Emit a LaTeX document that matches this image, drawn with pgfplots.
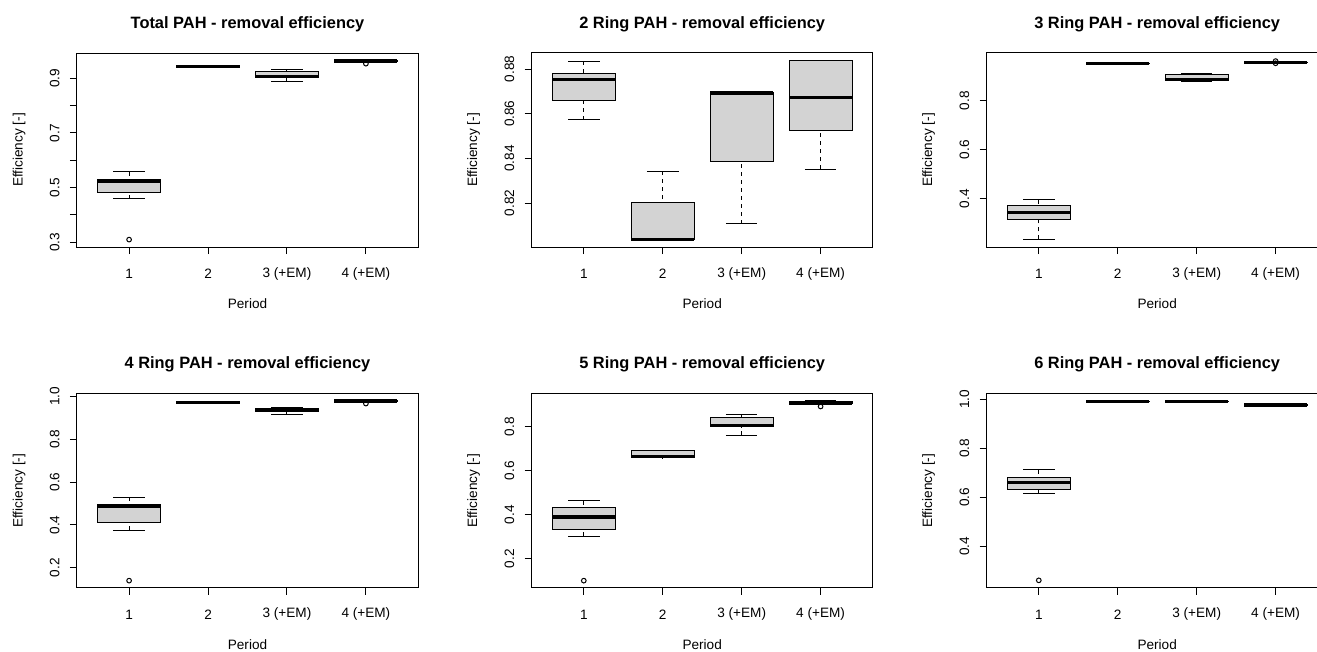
\documentclass[border=0pt]{standalone}
\usepackage{pgfplots}
\pgfplotsset{compat=1.18}
\usepgfplotslibrary{statistics}
\usepackage{fontspec}
\setmainfont{Liberation Sans}
\definecolor{boxgray}{HTML}{D3D3D3}

\newcommand{\lblfont}{\fontsize{10.2}{12}\selectfont}
\pgfplotsset{
  rpanel/.style={
    scale only axis, width=255.75pt, height=145.5pt,
    anchor=south west,
    xmin=0.34, xmax=4.66,
    xtick={1,2,3,4}, xticklabels={1,2,3 (+EM),4 (+EM)},
    tick pos=left, tick align=outside, major tick length=5.25pt,
    axis line style={line width=0.75pt, black},
    every tick/.style={black, line width=0.75pt},
    ticklabel style={font=\lblfont, black},
    xticklabel style={anchor=center},
    xticklabel shift=14.75pt,
    yticklabel style={rotate=90, anchor=center},
    yticklabel shift=11.5pt,
    title style={at={(axis description cs:0.5,1.108)}, anchor=center, font=\bfseries\fontsize{12.3}{14}\selectfont},
    xlabel={Period}, ylabel={Efficiency [-]},
    every axis x label/.style={at={(axis description cs:0.5,-0.2938)}, anchor=center, font=\lblfont},
    every axis y label/.style={at={(axis description cs:-0.1701,0.5)}, anchor=center, rotate=90, font=\lblfont},
  },
  rbox/.style={
    black,
    boxplot/draw direction=y,
    boxplot/box extend=0.8,
    boxplot/whisker extend=0.4,
    boxplot/every box/.style={draw=black, fill=boxgray, line width=0.8pt},
    boxplot/every median/.style={draw=black, line width=2.6pt},
    boxplot/draw/lower whisker/.code={%
      \draw[black, line width=0.75pt, dash pattern=on 3pt off 3pt]
        (boxplot box cs:\pgfplotsboxplotvalue{lower whisker},0.5) --
        (boxplot box cs:\pgfplotsboxplotvalue{lower quartile},0.5);
      \draw[black, line width=0.75pt]
        (boxplot whisker cs:\pgfplotsboxplotvalue{lower whisker},0) --
        (boxplot whisker cs:\pgfplotsboxplotvalue{lower whisker},1);
    },
    boxplot/draw/upper whisker/.code={%
      \draw[black, line width=0.75pt, dash pattern=on 3pt off 3pt]
        (boxplot box cs:\pgfplotsboxplotvalue{upper whisker},0.5) --
        (boxplot box cs:\pgfplotsboxplotvalue{upper quartile},0.5);
      \draw[black, line width=0.75pt]
        (boxplot whisker cs:\pgfplotsboxplotvalue{upper whisker},0) --
        (boxplot whisker cs:\pgfplotsboxplotvalue{upper whisker},1);
    },
    mark=o, mark size=1.75pt, mark options={black, line width=0.75pt, fill=none, solid},
  },
}
% draw position, lower whisker, lower quartile, median, upper quartile, upper whisker
\newcommand{\rb}[6]{\addplot[rbox, boxplot prepared={draw position=#1, lower whisker=#2, lower quartile=#3, median=#4, upper quartile=#5, upper whisker=#6}]}

\begin{document}
\begin{tikzpicture}
\useasboundingbox (0,0) rectangle (987.75pt,488.25pt);
\clip (0,0) rectangle (987.75pt,488.25pt);

% ---------- Total PAH
\begin{axis}[rpanel, at={(57.75pt,303pt)}, title={Total PAH - removal efficiency},
  ymin=0.283, ymax=0.992, ytick={0.3,0.4,0.5,0.6,0.7,0.8,0.9}, yticklabels={0.3,,0.5,,0.7,,0.9}]
\rb{1}{0.459}{0.481}{0.522}{0.530}{0.558} table[row sep=\\, y index=0] {y\\ 0.31\\};
\rb{2}{0.940}{0.941}{0.942}{0.943}{0.944} coordinates {};
\rb{3}{0.888}{0.904}{0.907}{0.926}{0.930} coordinates {};
\rb{4}{0.961}{0.962}{0.963}{0.964}{0.966} table[row sep=\\, y index=0] {y\\ 0.953\\};
\end{axis}

% ---------- 2 Ring
\begin{axis}[rpanel, at={(398.775pt,303pt)}, title={2 Ring PAH - removal efficiency},
  ymin=0.8003, ymax=0.8872, ytick={0.82,0.84,0.86,0.88}, yticklabels={0.82,0.84,0.86,0.88}]
\rb{1}{0.8572}{0.8658}{0.8754}{0.8779}{0.8836} coordinates {};
\rb{2}{0.8034}{0.8035}{0.8036}{0.8204}{0.8342} coordinates {};
\rb{3}{0.8107}{0.8387}{0.8693}{0.8697}{0.8697} coordinates {};
\rb{4}{0.8352}{0.8524}{0.8672}{0.8840}{0.8840} coordinates {};
\end{axis}

% ---------- 3 Ring
\begin{axis}[rpanel, at={(740.025pt,303pt)}, title={3 Ring PAH - removal efficiency},
  ymin=0.203, ymax=0.995, ytick={0.4,0.6,0.8}, yticklabels={0.4,0.6,0.8}]
\rb{1}{0.234}{0.316}{0.344}{0.371}{0.395} coordinates {};
\rb{2}{0.950}{0.951}{0.952}{0.953}{0.954} coordinates {};
\rb{3}{0.878}{0.882}{0.886}{0.906}{0.910} coordinates {};
\rb{4}{0.955}{0.956}{0.957}{0.958}{0.959} table[row sep=\\, y index=0] {y\\ 0.962\\ 0.953\\};
\end{axis}

% ---------- 4 Ring
\begin{axis}[rpanel, at={(57.75pt,47.475pt)}, title={4 Ring PAH - removal efficiency},
  ymin=0.107, ymax=1.012, ytick={0.2,0.4,0.6,0.8,1.0}, yticklabels={0.2,0.4,0.6,0.8,1.0}]
\rb{1}{0.374}{0.411}{0.489}{0.497}{0.528} table[row sep=\\, y index=0] {y\\ 0.140\\};
\rb{2}{0.969}{0.970}{0.971}{0.972}{0.973} coordinates {};
\rb{3}{0.916}{0.928}{0.936}{0.943}{0.949} coordinates {};
\rb{4}{0.975}{0.976}{0.977}{0.978}{0.979} table[row sep=\\, y index=0] {y\\ 0.966\\};
\end{axis}

% ---------- 5 Ring
\begin{axis}[rpanel, at={(398.775pt,47.475pt)}, title={5 Ring PAH - removal efficiency},
  ymin=0.069, ymax=0.950, ytick={0.2,0.4,0.6,0.8}, yticklabels={0.2,0.4,0.6,0.8}]
\rb{1}{0.303}{0.333}{0.391}{0.433}{0.464} table[row sep=\\, y index=0] {y\\ 0.101\\};
\rb{2}{0.659}{0.660}{0.665}{0.692}{0.692} coordinates {};
\rb{3}{0.762}{0.799}{0.805}{0.841}{0.856} coordinates {};
\rb{4}{0.903}{0.905}{0.908}{0.916}{0.918} table[row sep=\\, y index=0] {y\\ 0.892\\};
\end{axis}

% ---------- 6 Ring
\begin{axis}[rpanel, at={(740.025pt,47.475pt)}, title={6 Ring PAH - removal efficiency},
  ymin=0.232, ymax=1.023, ytick={0.4,0.6,0.8,1.0}, yticklabels={0.4,0.6,0.8,1.0}]
\rb{1}{0.615}{0.633}{0.662}{0.680}{0.712} table[row sep=\\, y index=0] {y\\ 0.262\\};
\rb{2}{0.990}{0.991}{0.992}{0.993}{0.994} coordinates {};
\rb{3}{0.990}{0.991}{0.992}{0.993}{0.994} coordinates {};
\rb{4}{0.975}{0.976}{0.977}{0.978}{0.979} coordinates {};
\end{axis}
\end{tikzpicture}
\end{document}
